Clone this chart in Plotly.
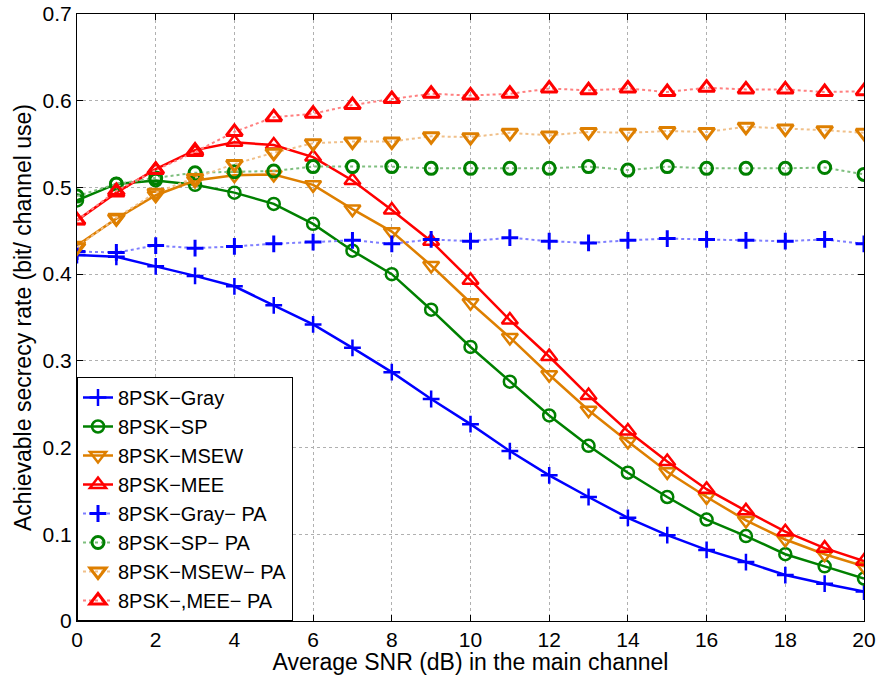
import plotly.graph_objects as go

snr = list(range(0, 21))

gray = [0.422, 0.420, 0.409, 0.398, 0.386, 0.364, 0.342, 0.315, 0.287, 0.256, 0.227,
        0.196, 0.168, 0.143, 0.119, 0.099, 0.082, 0.068, 0.053, 0.043, 0.034]
sp = [0.485, 0.504, 0.508, 0.503, 0.494, 0.481, 0.458, 0.427, 0.400, 0.359, 0.316,
      0.276, 0.237, 0.202, 0.171, 0.143, 0.117, 0.098, 0.077, 0.063, 0.049]
msew = [0.433, 0.464, 0.491, 0.508, 0.514, 0.515, 0.503, 0.475, 0.449, 0.410, 0.367,
        0.327, 0.284, 0.243, 0.207, 0.172, 0.143, 0.116, 0.094, 0.077, 0.063]
mee = [0.462, 0.494, 0.521, 0.543, 0.552, 0.549, 0.535, 0.508, 0.474, 0.438, 0.393,
       0.347, 0.305, 0.260, 0.219, 0.184, 0.152, 0.127, 0.103, 0.084, 0.069]
gray_pa = [0.426, 0.425, 0.433, 0.430, 0.432, 0.435, 0.437, 0.439, 0.435, 0.440, 0.438,
           0.442, 0.438, 0.436, 0.439, 0.441, 0.440, 0.439, 0.438, 0.440, 0.435]
sp_pa = [0.490, 0.504, 0.511, 0.517, 0.518, 0.519, 0.524, 0.524, 0.524, 0.522, 0.522,
         0.522, 0.522, 0.524, 0.520, 0.524, 0.522, 0.522, 0.522, 0.523, 0.515]
msew_pa = [0.431, 0.465, 0.494, 0.511, 0.527, 0.540, 0.551, 0.553, 0.553, 0.559, 0.558,
           0.563, 0.560, 0.564, 0.563, 0.565, 0.564, 0.570, 0.568, 0.566, 0.563]
mee_pa = [0.462, 0.496, 0.520, 0.541, 0.564, 0.581, 0.585, 0.595, 0.602, 0.608, 0.606,
          0.608, 0.614, 0.612, 0.614, 0.610, 0.615, 0.613, 0.613, 0.610, 0.611]

names = ["8PSK\u2212Gray", "8PSK\u2212SP", "8PSK\u2212MSEW", "8PSK\u2212MEE",
         "8PSK\u2212Gray\u2212 PA", "8PSK\u2212SP\u2212 PA", "8PSK\u2212MSEW\u2212 PA",
         "8PSK\u2212,MEE\u2212 PA"]

BLUE = "#0000FF"
GREEN = "#008000"
ORANGE = "#DE7F00"
RED = "#FF0000"

fig = go.Figure()

solid = [(gray, BLUE, "cross-thin-open", 12), (sp, GREEN, "circle-open", 12),
         (msew, ORANGE, "triangle-down-open", 14), (mee, RED, "triangle-up-open", 14)]
dotted = [(gray_pa, BLUE, "#7f7fff", "cross-thin-open", 12),
          (sp_pa, GREEN, "#7fbf7f", "circle-open", 12),
          (msew_pa, ORANGE, "#f0c08a", "triangle-down-open", 14),
          (mee_pa, RED, "#ff8080", "triangle-up-open", 14)]

for i, (ys, col, sym, sz) in enumerate(solid):
    fig.add_trace(go.Scatter(
        x=snr, y=ys, name=names[i], mode="lines+markers",
        line=dict(color=col, width=2.5),
        marker=dict(symbol=sym, size=sz, color=col, line=dict(color=col, width=2.5)),
    ))

for i, (ys, col, lcol, sym, sz) in enumerate(dotted):
    fig.add_trace(go.Scatter(
        x=snr, y=ys, name=names[4 + i], mode="lines+markers",
        line=dict(color=lcol, width=2, dash="dot"),
        marker=dict(symbol=sym, size=sz, color=col, line=dict(color=col, width=3)),
    ))

axis_common = dict(
    showline=True, linecolor="black", linewidth=1, mirror="ticks",
    ticks="inside", ticklen=6, tickcolor="black", automargin=False,
    showgrid=True, gridcolor="#b0b0b0", griddash="dot", gridwidth=1,
    zeroline=False, tickfont=dict(family="Liberation Sans, Arial", size=21, color="black"),
)

fig.update_layout(
    width=877, height=675,
    margin=dict(l=77, r=13, t=14, b=54),
    paper_bgcolor="white", plot_bgcolor="white",
    font=dict(family="Liberation Sans, Arial", color="black"),
    showlegend=True,
    legend=dict(
        x=0, y=0, xanchor="left", yanchor="bottom",
        bordercolor="black", borderwidth=1, bgcolor="white",
        font=dict(family="Liberation Sans, Arial", size=20, color="black"),
        tracegroupgap=0, itemwidth=30,
    ),
    xaxis=dict(range=[0, 20], dtick=2, tick0=0,
               title=dict(text="Average SNR (dB) in the main channel",
                          font=dict(size=23), standoff=2),
               **axis_common),
    yaxis=dict(range=[0, 0.7], dtick=0.1, tick0=0,
               title=dict(text="Achievable secrecy rate (bit/ channel use)",
                          font=dict(size=23), standoff=4),
               **axis_common),
)

fig.write_html(
    "out.html",
    config={"displayModeBar": False},
    post_script="document.body.style.margin='0';document.body.style.overflow='hidden';",
)
